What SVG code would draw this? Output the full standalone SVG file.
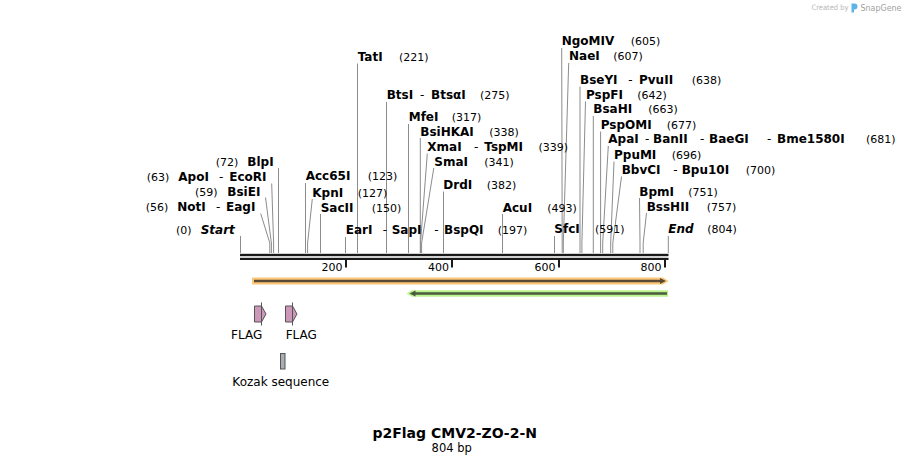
<svg xmlns="http://www.w3.org/2000/svg" width="909" height="464" viewBox="0 0 909 464">
<style>
text{font-family:"DejaVu Sans","Noto Sans",sans-serif;fill:#000}
.n{font-size:12px;font-weight:bold}
.p{font-size:11px}
.d{font-size:12px}
.i{font-size:12px;font-weight:bold;font-style:italic}
.f{font-size:12px}
.ld{stroke:#8c8c8c;stroke-width:1;fill:none}
.flag{fill:#cc97b9;stroke:#555;stroke-width:1}
</style>
<rect width="909" height="464" fill="#fff"/>
<g id="watermark">
<text x="811.5" y="10" style="font-size:7.5px;fill:#b8b8b8" textLength="37" lengthAdjust="spacingAndGlyphs">Created by</text>
<path d="M851.5,3.5 h3 a3,3 0 0 1 3,3 a3,3 0 0 1 -3,3 h-0.5 v3 h-2.5 z" fill="#5fb3e8"/>
<text x="860.5" y="11" style="font-size:9.5px;fill:#a0a0a0" textLength="41" lengthAdjust="spacingAndGlyphs">SnapGene</text>
</g>
<g id="connectors">
<path class="ld" d="M240.5,236 V253"/>
<path class="ld" d="M260.7,213.5 L269.8,243 V253"/>
<path class="ld" d="M265.5,197.5 L271.4,243 V253"/>
<path class="ld" d="M271.7,183.5 L273.6,243 V253"/>
<path class="ld" d="M278.5,168 V253"/>
<path class="ld" d="M305.5,183 V253"/>
<path class="ld" d="M312.3,199 L307.6,243 V253"/>
<path class="ld" d="M320.5,214 V253"/>
<path class="ld" d="M345.5,237 V253"/>
<path class="ld" d="M357.5,63.5 V253"/>
<path class="ld" d="M386.5,102 V253"/>
<path class="ld" d="M408.5,124 V253"/>
<path class="ld" d="M420.3,138 V253"/>
<path class="ld" d="M427.3,153.5 L420.5,243 V253"/>
<path class="ld" d="M433.8,168 L421.6,243 V253"/>
<path class="ld" d="M443.5,191.5 V253"/>
<path class="ld" d="M502.5,214 V253"/>
<path class="ld" d="M554.5,236 V253"/>
<path class="ld" d="M561.7,48 L562.2,243 V253"/>
<path class="ld" d="M568.7,63 L563.3,243 V253"/>
<path class="ld" d="M580,86.5 V253"/>
<path class="ld" d="M585.5,101.5 L581.9,243 V253"/>
<path class="ld" d="M593.3,116 V253"/>
<path class="ld" d="M600.6,131.5 V253"/>
<path class="ld" d="M608.3,146 L602.7,243 V253"/>
<path class="ld" d="M614,161.5 L610.7,243 V253"/>
<path class="ld" d="M621.5,176.5 L612.8,243 V253"/>
<path class="ld" d="M639.5,198 L640,243 V253"/>
<path class="ld" d="M646.5,213 L643.2,243 V253"/>
<path class="ld" d="M668.3,236 V253"/>
</g>
<g id="enzymes">
<g id="site-start"><text class="p" x="176" y="233.5">(0)</text><text class="i" x="200.7" y="233.5">Start</text></g>
<g id="site-NotI"><text class="p" x="145.7" y="211">(56)</text><text class="n" x="177.3" y="211">NotI</text><text class="d" x="216" y="211">-</text><text class="n" x="226" y="211">EagI</text></g>
<g id="site-BsiEI"><text class="p" x="195" y="196">(59)</text><text class="n" x="227.3" y="196">BsiEI</text></g>
<g id="site-ApoI"><text class="p" x="146.7" y="181">(63)</text><text class="n" x="178.3" y="181">ApoI</text><text class="d" x="219" y="181">-</text><text class="n" x="229.3" y="181">EcoRI</text></g>
<g id="site-BlpI"><text class="p" x="215.7" y="166">(72)</text><text class="n" x="247.3" y="166">BlpI</text></g>
<g id="site-Acc65I"><text class="n" x="305.7" y="180">Acc65I</text><text class="p" x="367.7" y="180">(123)</text></g>
<g id="site-KpnI"><text class="n" x="312.3" y="196.7">KpnI</text><text class="p" x="357.7" y="196.7">(127)</text></g>
<g id="site-SacII"><text class="n" x="320.7" y="211.7">SacII</text><text class="p" x="371.7" y="211.7">(150)</text></g>
<g id="site-EarI"><text class="n" x="345.7" y="234.3">EarI</text><text class="d" x="382.7" y="234.3">-</text><text class="n" x="391.7" y="234.3">SapI</text><text class="d" x="434.3" y="234.3">-</text><text class="n" x="444" y="234.3">BspQI</text><text class="p" x="497.7" y="234.3">(197)</text></g>
<g id="site-TatI"><text class="n" x="357.7" y="61">TatI</text><text class="p" x="399" y="61">(221)</text></g>
<g id="site-BtsI"><text class="n" x="386.7" y="99">BtsI</text><text class="d" x="420" y="99">-</text><text class="n" x="431" y="99">BtsαI</text><text class="p" x="480" y="99">(275)</text></g>
<g id="site-MfeI"><text class="n" x="408.7" y="121">MfeI</text><text class="p" x="451.7" y="121">(317)</text></g>
<g id="site-BsiHKAI"><text class="n" x="420.3" y="135.7">BsiHKAI</text><text class="p" x="489.3" y="135.7">(338)</text></g>
<g id="site-XmaI"><text class="n" x="427.3" y="151">XmaI</text><text class="d" x="474" y="151">-</text><text class="n" x="484.3" y="151">TspMI</text><text class="p" x="538.5" y="151">(339)</text></g>
<g id="site-SmaI"><text class="n" x="434.3" y="165.7">SmaI</text><text class="p" x="484.3" y="165.7">(341)</text></g>
<g id="site-DrdI"><text class="n" x="443.3" y="189">DrdI</text><text class="p" x="486.7" y="189">(382)</text></g>
<g id="site-AcuI"><text class="n" x="502.7" y="211.7">AcuI</text><text class="p" x="547.3" y="211.7">(493)</text></g>
<g id="site-SfcI"><text class="n" x="554.3" y="233.3">SfcI</text><text class="p" x="595" y="233.3">(591)</text></g>
<g id="site-NgoMIV"><text class="n" x="561.7" y="45">NgoMIV</text><text class="p" x="630.7" y="45">(605)</text></g>
<g id="site-NaeI"><text class="n" x="569" y="60">NaeI</text><text class="p" x="613.3" y="60">(607)</text></g>
<g id="site-BseYI"><text class="n" x="580" y="84">BseYI</text><text class="d" x="628.3" y="84">-</text><text class="n" x="639" y="84">PvuII</text><text class="p" x="691.7" y="84">(638)</text></g>
<g id="site-PspFI"><text class="n" x="586" y="99">PspFI</text><text class="p" x="637.3" y="99">(642)</text></g>
<g id="site-BsaHI"><text class="n" x="593.3" y="113.3">BsaHI</text><text class="p" x="648.3" y="113.3">(663)</text></g>
<g id="site-PspOMI"><text class="n" x="600.7" y="129">PspOMI</text><text class="p" x="666.7" y="129">(677)</text></g>
<g id="site-ApaI"><text class="n" x="608.3" y="143.3">ApaI</text><text class="d" x="645" y="143.3">-</text><text class="n" x="653" y="143.3">BanII</text><text class="d" x="700" y="143.3">-</text><text class="n" x="709" y="143.3">BaeGI</text><text class="d" x="767" y="143.3">-</text><text class="n" x="777" y="143.3">Bme1580I</text><text class="p" x="866" y="143.3">(681)</text></g>
<g id="site-PpuMI"><text class="n" x="614" y="159">PpuMI</text><text class="p" x="671.7" y="159">(696)</text></g>
<g id="site-BbvCI"><text class="n" x="621.7" y="174">BbvCI</text><text class="d" x="673.3" y="174">-</text><text class="n" x="681.7" y="174">Bpu10I</text><text class="p" x="745.7" y="174">(700)</text></g>
<g id="site-BpmI"><text class="n" x="639.3" y="195.7">BpmI</text><text class="p" x="688.3" y="195.7">(751)</text></g>
<g id="site-BssHII"><text class="n" x="646.7" y="210.7">BssHII</text><text class="p" x="706.7" y="210.7">(757)</text></g>
<g id="site-end"><text class="i" x="668.3" y="233.3">End</text><text class="p" x="707.3" y="233.3">(804)</text></g>
</g>
<g id="ruler">
<rect x="240" y="253.8" width="428.5" height="2.4" fill="#1a1a1a"/>
<rect x="240" y="257.8" width="428.5" height="2.2" fill="#1a1a1a"/>
<rect x="345" y="260" width="2" height="7.5" fill="#1a1a1a"/>
<rect x="451" y="260" width="2" height="7.5" fill="#1a1a1a"/>
<rect x="558" y="260" width="2" height="7.5" fill="#1a1a1a"/>
<rect x="664" y="260" width="2" height="7.5" fill="#1a1a1a"/>
<text class="p" x="342.5" y="271" text-anchor="end">200</text>
<text class="p" x="449" y="271" text-anchor="end">400</text>
<text class="p" x="555.5" y="271" text-anchor="end">600</text>
<text class="p" x="661.5" y="271" text-anchor="end">800</text>
</g>
<g id="feature-orange">
<path d="M252,277.6 H663 L668.5,281 L663,284.4 H252 Z" fill="#fcc877"/>
<path d="M254,281 H661" stroke="#5a4a35" stroke-width="2.3"/>
<path d="M660,278 L666,281 L660,284 Z" fill="#5a4a35"/>
</g>
<g id="feature-green">
<path d="M412,290.2 H668 V296.8 H412 L406.5,293.5 Z" fill="#baf28d"/>
<path d="M414,293.5 H667" stroke="#4b5a3e" stroke-width="2.3"/>
<path d="M409.5,293.5 L415.5,290.5 L415.5,296.5 Z" fill="#4b5a3e"/>
</g>
<g id="feature-flag1">
<path class="flag" d="M254.5,306 H261.5 L266,314 L261.5,322 H254.5 Z"/>
<path d="M261.5,302.5 V325.5" stroke="#555" stroke-width="1"/>
<text class="f" x="246.7" y="339" text-anchor="middle">FLAG</text>
</g>
<g id="feature-flag2">
<path class="flag" d="M285.5,306 H292.5 L297,314 L292.5,322 H285.5 Z"/>
<path d="M292.5,302.5 V325.5" stroke="#555" stroke-width="1"/>
<text class="f" x="301.3" y="339" text-anchor="middle">FLAG</text>
</g>
<g id="feature-kozak">
<rect x="280.5" y="353.5" width="4.5" height="15.5" fill="#a8aeb4" stroke="#555" stroke-width="1"/>
<text class="f" x="280.8" y="385.5" text-anchor="middle">Kozak sequence</text>
</g>
<g id="title">
<text x="454.7" y="437.5" text-anchor="middle" style="font-size:14px;font-weight:bold">p2Flag CMV2-ZO-2-N</text>
<text x="451.7" y="452" text-anchor="middle" style="font-size:11.5px">804 bp</text>
</g>
</svg>
